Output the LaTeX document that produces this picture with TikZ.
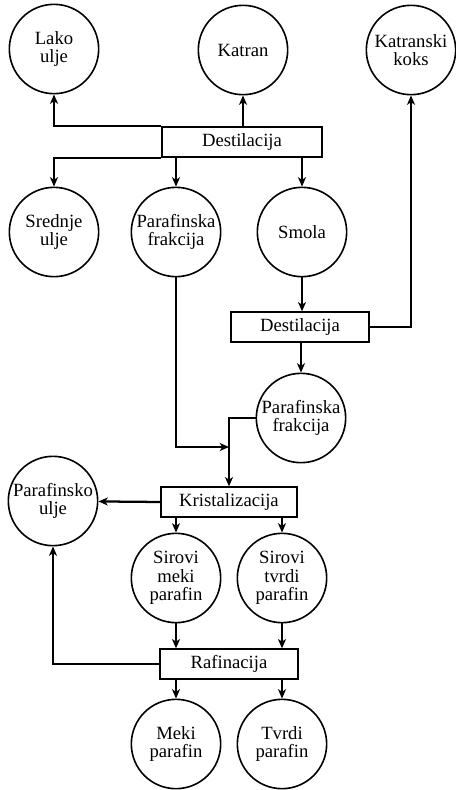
\documentclass[tikz,border=0pt]{standalone}
\usepackage{fontspec}
\setmainfont{Liberation Serif}
\usetikzlibrary{arrows.meta}
\begin{document}
\begin{tikzpicture}[x=0.75pt,y=-0.75pt,
  font=\fontsize{14}{14}\selectfont,
  prod/.style={circle,draw,line width=1.2pt,minimum size=67pt,inner sep=0pt,align=center},
  proc/.style={rectangle,draw,line width=1pt,minimum height=22.5pt,inner sep=0pt,align=center},
  arr/.style={line width=1.7pt,-{Stealth[length=7pt,width=6pt,inset=2pt]}},
  ln/.style={line width=1.7pt}]
\useasboundingbox (0,0) rectangle (456,790);
% row 1
\node[prod] (lako) at (54,49) {Lako\\ulje};
\node[prod] (katran) at (243,50) {Katran};
\node[prod] (koks) at (411,50) {Katranski\\koks};
\node[proc,minimum width=120pt] (d1) at (242,142) {Destilacija};
% row 2
\node[prod] (sred) at (54,232) {Srednje\\ulje};
\node[prod] (par1) at (176,232) {Parafinska\\frakcija};
\node[prod] (smola) at (302,232) {Smola};
\node[proc,minimum width=103.5pt] (d2) at (300,327) {Destilacija};
\node[prod] (par2) at (301,418) {Parafinska\\frakcija};
\coordinate (j) at (229,447);
\node[proc,minimum width=102pt] (kris) at (229,502) {Kristalizacija};
\node[prod] (pulje) at (53,501) {Parafinsko\\ulje};
\node[prod] (smeki) at (176,578) {Sirovi\\meki\\parafin};
\node[prod] (stvrdi) at (282,578) {Sirovi\\tvrdi\\parafin};
\node[proc,minimum width=103.5pt] (raf) at (229,664) {Rafinacija};
\node[prod] (meki) at (176,744) {Meki\\parafin};
\node[prod] (tvrdi) at (282,744) {Tvrdi\\parafin};
% connectors
\draw[arr] (d1.north west) -| (lako);
\draw[arr] (d1.north -| katran) -- (katran);
\draw[arr] (d1.south west) -| (sred);
\draw[arr] (d1.south -| par1) -- (par1);
\draw[arr] (d1.south -| smola) -- (smola);
\draw[arr] (smola) -- (d2.north -| smola);
\draw[arr] (d2.south -| par2) -- (par2);
\draw[arr] (d2.east) -| (koks);
\draw[arr] (par1) |- (j);
\draw[arr] (par2.west) -| (kris.north);
\draw[arr] (kris.west) -- (pulje);
\draw[arr] (kris.south -| smeki) -- (smeki);
\draw[arr] (kris.south -| stvrdi) -- (stvrdi);
\draw[arr] (smeki) -- (raf.north -| smeki);
\draw[arr] (stvrdi) -- (raf.north -| stvrdi);
\draw[arr] (raf.west) -| (pulje);
\draw[arr] (raf.south -| meki) -- (meki);
\draw[arr] (raf.south -| tvrdi) -- (tvrdi);
\end{tikzpicture}
\end{document}
